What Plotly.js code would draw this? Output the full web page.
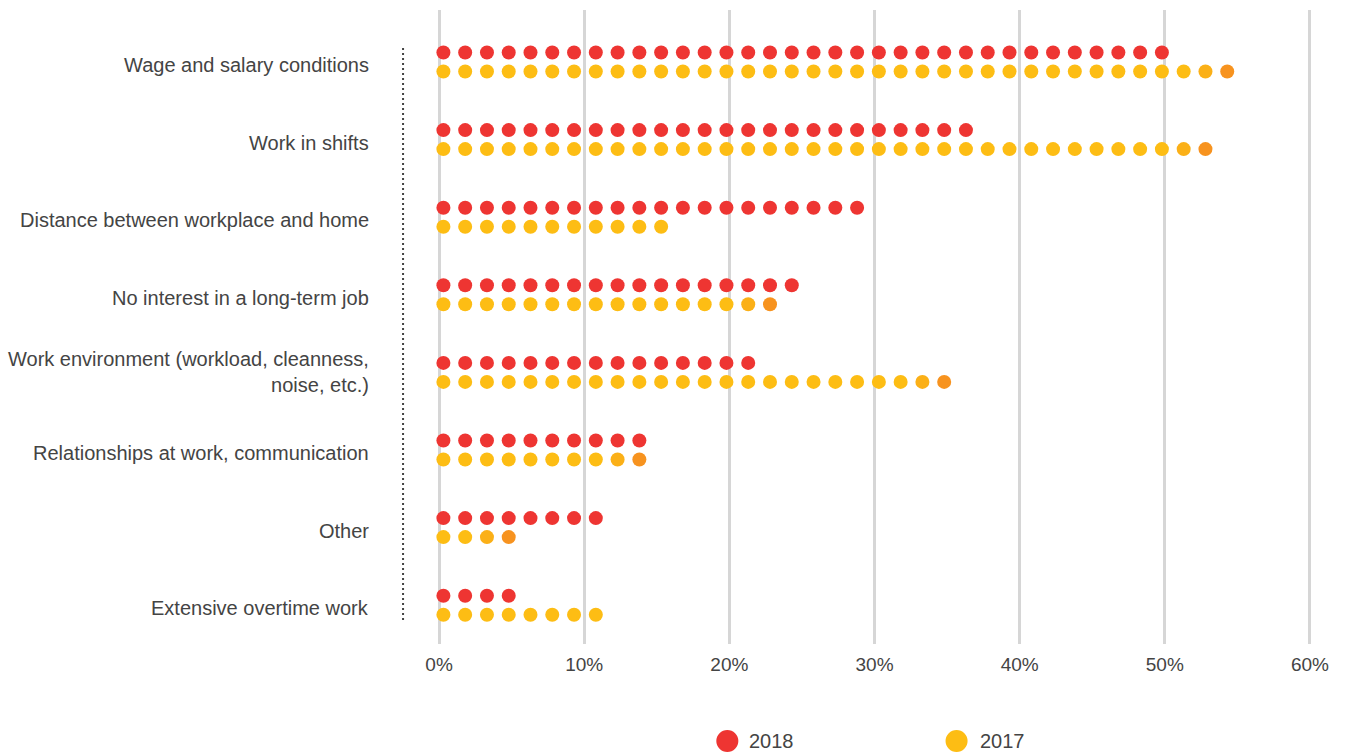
<!DOCTYPE html>
<html>
<head>
<meta charset="utf-8">
<script src="https://cdn.plot.ly/plotly-3.0.1.min.js"></script>
<style>html,body{margin:0;padding:0;background:#fff;}#chart{width:1345px;height:755px;}</style>
</head>
<body>
<div id="chart"></div>
<script>
// ---- data ----
const categories = [
  "Wage and salary conditions",
  "Work in shifts",
  "Distance between workplace and home",
  "No interest in a long-term job",
  "Work environment (workload, cleanness,<br>noise, etc.)",
  "Relationships at work, communication",
  "Other",
  "Extensive overtime work"
];
const values2018 = [51, 37.5, 30, 25.5, 22.5, 15, 12, 6];
const values2017 = [54.4, 52.9, 16.5, 23.1, 35.1, 14.1, 5.1, 12];
const xTicks = [0, 10, 20, 30, 40, 50, 60];
const xTickLabels = ["0%", "10%", "20%", "30%", "40%", "50%", "60%"];
const seriesNames = ["2018", "2017"];

// ---- styling ----
const UNIT = 1.5;        // percent represented by one dot
const START = 0.3;       // offset of first dot
const OFF = 0.1225;      // vertical offset of each series from row centre
const RED = "#EE3532";
const YEL = "#FDBD14";
const TINT = "#FBB017";
const ORANGE = "#F7931F";
const FONT = '"Liberation Sans", Arial, Helvetica, sans-serif';
const TXT = "#444444";

function buildDots(values, sign, base) {
  const xs = [], ys = [], cs = [];
  values.forEach((v, i) => {
    const q = v / UNIT;
    const n = Math.ceil(q - 1e-9);
    const partial = (n - q) > 1e-6;
    for (let k = 0; k < n; k++) {
      xs.push(START + UNIT * k);
      ys.push(i + sign * OFF);
      let c = base;
      if (partial && base === YEL) {
        if (k === n - 1) c = ORANGE;
        else if (k === n - 2) c = TINT;
      }
      cs.push(c);
    }
  });
  return {xs, ys, cs};
}

const d18 = buildDots(values2018, -1, RED);
const d17 = buildDots(values2017, 1, YEL);

const traces = [
  {type: "scatter", mode: "markers", name: seriesNames[0], x: d18.xs, y: d18.ys,
   marker: {size: 14, color: d18.cs, line: {width: 0}}, hoverinfo: "skip", showlegend: false},
  {type: "scatter", mode: "markers", name: seriesNames[1], x: d17.xs, y: d17.ys,
   marker: {size: 14, color: d17.cs, line: {width: 0}}, hoverinfo: "skip", showlegend: false}
];

const annotations = categories.map((c, i) => ({
  text: c, xref: "paper", yref: "y", x: -0.0315, y: i,
  xanchor: "right", yanchor: "middle", align: "right", showarrow: false,
  yshift: c.indexOf("<br>") >= 0 ? 0 : -3,
  font: {family: FONT, size: 20, color: TXT}
}));

// legend (manual)
const legY = -0.153;
const legItems = [{x: 0.3554, tx: 0.377, color: RED, name: seriesNames[0]},
                  {x: 0.6043, tx: 0.6272, color: YEL, name: seriesNames[1]}];
const shapes = [
  {type: "line", xref: "x", yref: "y", x0: -2.48, x1: -2.48, y0: -0.18, y1: 7.22,
   line: {color: "#444", width: 2, dash: "2px,3px"}}
];
legItems.forEach(l => {
  shapes.push({type: "circle", xref: "paper", yref: "paper",
    x0: l.x - 11/920, x1: l.x + 11/920, y0: legY - 11/634, y1: legY + 11/634,
    fillcolor: l.color, line: {width: 0}});
  annotations.push({text: l.name, xref: "paper", yref: "paper", x: l.tx, y: legY,
    xanchor: "left", yanchor: "middle", showarrow: false,
    font: {family: FONT, size: 20, color: TXT}});
});

const layout = {
  width: 1345, height: 755,
  margin: {l: 400, r: 24, t: 10, b: 111},
  paper_bgcolor: "#fff", plot_bgcolor: "#fff",
  showlegend: false,
  xaxis: {range: [-2.69, 60.76], tickvals: xTicks, ticktext: xTickLabels,
    showgrid: true, gridcolor: "#d6d6d6", gridwidth: 3, zeroline: false,
    showline: false, ticks: "", ticklabelstandoff: 7,
    tickfont: {family: FONT, size: 19, color: TXT}, fixedrange: true},
  yaxis: {range: [7.50, -0.67], showgrid: false, zeroline: false, showline: false,
    showticklabels: false, ticks: "", fixedrange: true},
  annotations: annotations,
  shapes: shapes,
  font: {family: FONT, color: TXT}
};

Plotly.newPlot("chart", traces, layout, {displayModeBar: false, staticPlot: true});
</script>
</body>
</html>
